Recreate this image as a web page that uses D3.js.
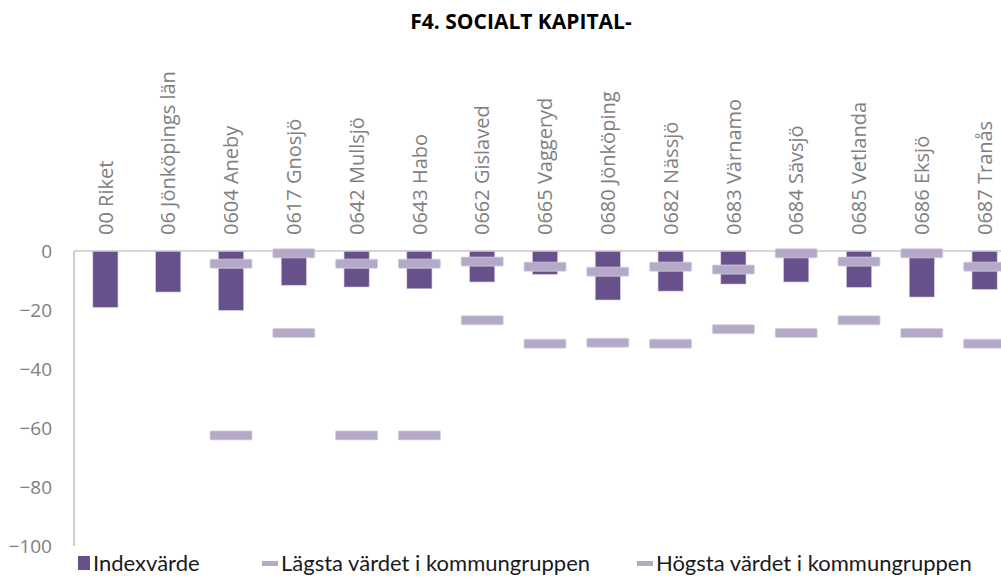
<!DOCTYPE html>
<html>
<head>
<meta charset="utf-8">
<script src="https://cdn.jsdelivr.net/npm/d3@7"></script>
<style>
  html, body { margin: 0; padding: 0; background: #fff; }
  svg { display: block; }
</style>
</head>
<body>
<svg id="chart" width="1001" height="577"></svg>
<script>
const categories = ["00 Riket","06 Jönköpings län","0604 Aneby","0617 Gnosjö","0642 Mullsjö","0643 Habo","0662 Gislaved","0665 Vaggeryd","0680 Jönköping","0682 Nässjö","0683 Värnamo","0684 Sävsjö","0685 Vetlanda","0686 Eksjö","0687 Tranås"];
const indexValues = [-19.1,-13.9,-20.1,-11.6,-12.2,-12.8,-10.5,-7.9,-16.6,-13.6,-11.2,-10.5,-12.3,-15.6,-13.0];
const lowestValues = [null,null,-62.5,-27.8,-62.5,-62.5,-23.5,-31.4,-31.1,-31.4,-26.5,-27.8,-23.5,-27.8,-31.4];
const highestValues = [null,null,-4.3,-0.8,-4.3,-4.3,-3.6,-5.3,-7.0,-5.3,-6.3,-0.8,-3.6,-0.8,-5.3];
const yTicks = [0,-20,-40,-60,-80,-100];
const title = "F4. SOCIALT KAPITAL-";
const legendLabels = ["Indexvärde","Lägsta värdet i kommungruppen","Högsta värdet i kommungruppen"];

const barColor = "#68508a";
const markColor = "#b5a9c8";
const svg = d3.select("#chart");

const x = d3.scaleBand().domain(categories).range([74, 1016]).paddingInner(0.6).paddingOuter(0.3);
const y = d3.scaleLinear().domain([0, -100]).range([251, 546]);

// title
svg.append("text").attr("x", 521).attr("y", 29).attr("text-anchor", "middle")
  .attr("font-family", "'Open Sans', sans-serif").attr("font-weight", "bold")
  .attr("font-size", 21).attr("fill", "#000").text(title);

// y axis
const yAxis = d3.axisLeft(y).tickValues(yTicks).tickSize(0).tickPadding(0).tickFormat(d3.format("d"));
const gy = svg.append("g").attr("transform", "translate(52,0)").call(yAxis);
gy.select(".domain").remove();
gy.selectAll("text").attr("font-family", "'Open Sans', sans-serif").attr("font-size", 19)
  .attr("fill", "#808080").attr("dy", "0.35em").attr("x", 0);

svg.append("line").attr("x1", 74).attr("x2", 74).attr("y1", y(0)).attr("y2", y(-100))
  .attr("stroke", "#bfbfbf").attr("stroke-width", 1.5);

// bars
svg.append("g").selectAll("rect").data(categories).join("rect")
  .attr("x", d => x(d)).attr("width", x.bandwidth())
  .attr("y", y(0)).attr("height", (d, i) => y(indexValues[i]) - y(0))
  .attr("fill", barColor).attr("stroke", "#cfc6dc").attr("stroke-width", 0.6);

// zero line (category axis)
const xAxis = d3.axisTop(x).tickSize(0).tickPadding(0);
const gx = svg.append("g").attr("transform", `translate(0,${y(0)})`).call(xAxis);
gx.select(".domain").attr("stroke", "#c8c8c8").attr("stroke-width", 1.5).attr("d", `M74,0H1016`);
gx.selectAll(".tick text")
  .attr("font-family", "'Open Sans', sans-serif").attr("font-size", 20).attr("fill", "#808080")
  .attr("text-anchor", "start").attr("transform", "rotate(-90)")
  .attr("x", 16).attr("y", 0).attr("dy", "0.36em");

// markers
const markW = 42, markH = 9;
function drawMarks(vals) {
  svg.append("g").selectAll("rect").data(categories.filter((c, i) => vals[i] !== null)).join("rect")
    .attr("x", d => x(d) + x.bandwidth() / 2 - markW / 2)
    .attr("width", markW)
    .attr("y", d => y(vals[categories.indexOf(d)]) - markH / 2)
    .attr("height", markH)
    .attr("rx", 1)
    .attr("fill", markColor).attr("stroke", "#d6cfe1").attr("stroke-width", 0.8);
}
drawMarks(lowestValues);
drawMarks(highestValues);

// legend
const lg = svg.append("g").attr("font-family", "Lato, 'Open Sans', sans-serif").attr("font-size", 22).attr("fill", "#1a1a1a");
const baseY = 571;
lg.append("rect").attr("x", 78).attr("y", 556).attr("width", 12).attr("height", 14).attr("fill", barColor);
lg.append("text").attr("x", 93).attr("y", baseY).text(legendLabels[0]);
lg.append("rect").attr("x", 262).attr("y", 561).attr("width", 16).attr("height", 5).attr("fill", markColor);
lg.append("text").attr("x", 281).attr("y", baseY).text(legendLabels[1]);
lg.append("rect").attr("x", 637).attr("y", 561).attr("width", 16).attr("height", 5).attr("fill", markColor);
lg.append("text").attr("x", 656).attr("y", baseY).text(legendLabels[2]);
</script>
</body>
</html>
